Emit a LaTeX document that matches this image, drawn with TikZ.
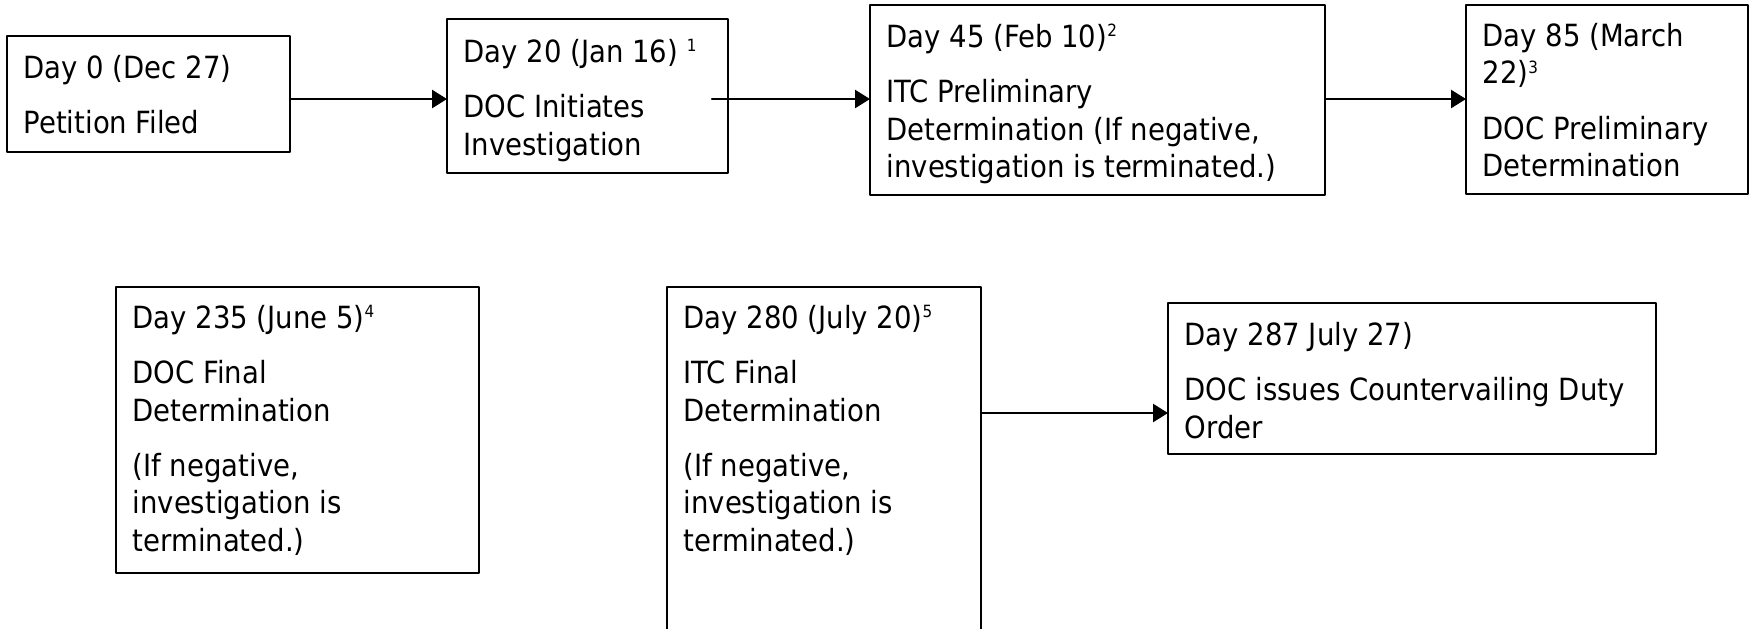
\documentclass[tikz,border=0pt]{standalone}
\usepackage{fontspec}
\setmainfont{DejaVu Sans Condensed}
\usepackage{tikz}
\usetikzlibrary{arrows.meta}
\newcommand{\notemark}[1]{\raisebox{0.34em}{\fontsize{4.8}{5}\selectfont #1}}

\begin{document}
\begin{tikzpicture}[line cap=round,line join=round,>={Triangle[length=1.5mm,width=1.8mm]},x=1.0cm,y=1.0cm,
    stage/.style={draw,line width=0.7pt,rectangle,anchor=north west,inner sep=0pt,outer sep=0pt},
    stagetext/.style={anchor=north west,align=left,inner sep=0pt,font=\fontsize{8.7}{10.7}\selectfont},
    flow/.style={->,line width=0.7pt}]
        \clip (0,0) rectangle (17.5,-6.28);
        % first row
        \node [stage,minimum width=2.83cm,minimum height=1.16cm] (petition) at (0.07,-0.36) {};
        \node [stage,minimum width=2.81cm,minimum height=1.54cm] (initiate) at (4.47,-0.19) {};
        \node [stage,minimum width=4.55cm,minimum height=1.90cm] (itcprelim) at (8.70,-0.05) {};
        \node [stage,minimum width=2.82cm,minimum height=1.89cm] (docprelim) at (14.66,-0.05) {};
        % second row
        \node [stage,minimum width=3.63cm,minimum height=2.86cm] (docfinal) at (1.16,-2.87) {};
        \node [stage,minimum width=3.14cm,minimum height=3.73cm] (itcfinal) at (6.67,-2.87) {};
        \node [stage,minimum width=4.88cm,minimum height=1.51cm] (cvdorder) at (11.68,-3.03) {};
        % texts
        \node [stagetext] at ([shift={(0.16,-0.10)}]petition.north west) {\rule{0pt}{9pt}Day 0 (Dec 27)\\[5pt]Petition Filed};
        \node [stagetext] at ([shift={(0.16,-0.11)}]initiate.north west) {\rule{0pt}{9pt}Day 20 (Jan 16) \notemark{1}\\[5pt]DOC Initiates\\Investigation};
        \node [stagetext] at ([shift={(0.16,-0.10)}]itcprelim.north west) {\rule{0pt}{9pt}Day 45 (Feb 10)\notemark{2}\\[5pt]ITC Preliminary\\Determination (If negative,\\investigation is terminated.)};
        \node [stagetext] at ([shift={(0.16,-0.09)}]docprelim.north west) {\rule{0pt}{9pt}Day 85 (March\\22)\notemark{3}\\[5pt]DOC Preliminary\\Determination};
        \node [stagetext] at ([shift={(0.16,-0.09)}]docfinal.north west) {\rule{0pt}{9pt}Day 235 (June 5)\notemark{4}\\[5pt]DOC Final\\Determination\\[5pt](If negative,\\investigation is\\terminated.)};
        \node [stagetext] at ([shift={(0.16,-0.09)}]itcfinal.north west) {\rule{0pt}{9pt}Day 280 (July 20)\notemark{5}\\[5pt]ITC Final\\Determination\\[5pt](If negative,\\investigation is\\terminated.)};
        \node [stagetext] at ([shift={(0.16,-0.10)}]cvdorder.north west) {\rule{0pt}{9pt}Day 287 July 27)\\[5pt]DOC issues Countervailing Duty\\Order};
        % arrows
        \coordinate (rowone) at (0,-0.99);
        \coordinate (rowtwo) at (0,-4.13);
        \draw [flow] (petition.east |- rowone) -- (initiate.west |- rowone);
        \draw [flow] ([xshift=-0.16cm]initiate.east |- rowone) -- (itcprelim.west |- rowone);
        \draw [flow] (itcprelim.east |- rowone) -- (docprelim.west |- rowone);
        \draw [flow] (itcfinal.east |- rowtwo) -- (cvdorder.west |- rowtwo);
\end{tikzpicture}
\end{document}
